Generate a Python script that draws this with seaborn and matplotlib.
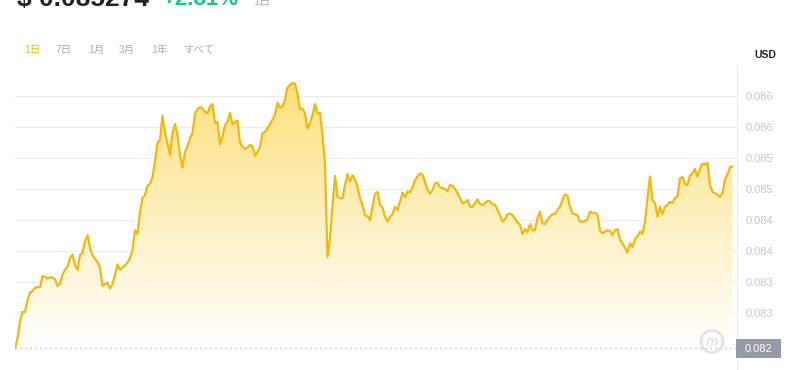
import numpy as np
import pandas as pd
import matplotlib
matplotlib.use("Agg")
import matplotlib.pyplot as plt
import seaborn as sns
from matplotlib.patches import Rectangle, Ellipse

# ---------------- data ----------------
prices = [
    0.08192, 0.08208, 0.08235, 0.08251, 0.08251, 0.08270, 0.08282, 0.08285, 0.08290, 0.08291,
    0.08291, 0.08309, 0.08308, 0.08305, 0.08307, 0.08306, 0.08304, 0.08293, 0.08296, 0.08311,
    0.08319, 0.08324, 0.08338, 0.08344, 0.08327, 0.08319, 0.08343, 0.08346, 0.08365, 0.08375,
    0.08355, 0.08343, 0.08337, 0.08332, 0.08323, 0.08293, 0.08296, 0.08298, 0.08289, 0.08296,
    0.08311, 0.08328, 0.08319, 0.08323, 0.08326, 0.08331, 0.08338, 0.08351, 0.08383, 0.08377,
    0.08413, 0.08435, 0.08440, 0.08455, 0.08458, 0.08469, 0.08494, 0.08524, 0.08529, 0.08568,
    0.08542, 0.08524, 0.08505, 0.08540, 0.08555, 0.08537, 0.08505, 0.08484, 0.08510, 0.08519,
    0.08532, 0.08540, 0.08572, 0.08579, 0.08582, 0.08580, 0.08575, 0.08572, 0.08583, 0.08587,
    0.08556, 0.08558, 0.08522, 0.08535, 0.08553, 0.08558, 0.08573, 0.08554, 0.08558, 0.08560,
    0.08525, 0.08518, 0.08514, 0.08517, 0.08521, 0.08519, 0.08503, 0.08510, 0.08517, 0.08540,
    0.08542, 0.08548, 0.08555, 0.08562, 0.08570, 0.08589, 0.08581, 0.08583, 0.08594, 0.08614,
    0.08618, 0.08621, 0.08620, 0.08604, 0.08579, 0.08579, 0.08572, 0.08547, 0.08556, 0.08569,
    0.08587, 0.08572, 0.08573, 0.08537, 0.08489, 0.08340, 0.08370, 0.08424, 0.08471, 0.08437,
    0.08435, 0.08435, 0.08456, 0.08474, 0.08462, 0.08472, 0.08465, 0.08453, 0.08435, 0.08424,
    0.08407, 0.08406, 0.08399, 0.08421, 0.08442, 0.08445, 0.08424, 0.08420, 0.08405, 0.08397,
    0.08405, 0.08409, 0.08421, 0.08416, 0.08429, 0.08444, 0.08436, 0.08446, 0.08444, 0.08452,
    0.08464, 0.08470, 0.08475, 0.08473, 0.08461, 0.08449, 0.08442, 0.08448, 0.08459, 0.08460,
    0.08452, 0.08451, 0.08450, 0.08446, 0.08456, 0.08455, 0.08450, 0.08443, 0.08435, 0.08427,
    0.08428, 0.08432, 0.08421, 0.08421, 0.08427, 0.08433, 0.08425, 0.08424, 0.08427, 0.08430,
    0.08430, 0.08425, 0.08424, 0.08416, 0.08407, 0.08397, 0.08401, 0.08409, 0.08410, 0.08408,
    0.08401, 0.08396, 0.08392, 0.08377, 0.08385, 0.08380, 0.08393, 0.08383, 0.08383, 0.08403,
    0.08413, 0.08394, 0.08393, 0.08400, 0.08405, 0.08409, 0.08409, 0.08416, 0.08421, 0.08432,
    0.08441, 0.08439, 0.08421, 0.08410, 0.08409, 0.08407, 0.08397, 0.08397, 0.08398, 0.08401,
    0.08413, 0.08411, 0.08411, 0.08408, 0.08383, 0.08378, 0.08381, 0.08383, 0.08382, 0.08375,
    0.08383, 0.08385, 0.08368, 0.08362, 0.08355, 0.08347, 0.08362, 0.08356, 0.08368, 0.08373,
    0.08381, 0.08377, 0.08397, 0.08435, 0.08470, 0.08431, 0.08427, 0.08405, 0.08421, 0.08409,
    0.08421, 0.08424, 0.08429, 0.08427, 0.08435, 0.08438, 0.08467, 0.08469, 0.08458, 0.08456,
    0.08471, 0.08475, 0.08482, 0.08470, 0.08482, 0.08491, 0.08489, 0.08492, 0.08456, 0.08445,
    0.08443, 0.08440, 0.08437, 0.08443, 0.08465, 0.08473, 0.08485, 0.08486,
]
tick_values = [0.0820, 0.0825, 0.0830, 0.0835, 0.0840, 0.0845, 0.0850, 0.0855, 0.0860]
tick_labels = ["0.082", "0.083", "0.083", "0.084", "0.084", "0.085", "0.085", "0.086", "0.086"]
tabs = ["1日", "7日", "1月", "3月", "1年", "すべて"]
header_price = "$ 0.085274"
header_change = "+2.81%"
header_period = "1日"
currency = "USD"

# ---------------- style ----------------
sns.set_theme(style="white")
plt.rcParams['font.family'] = ['Liberation Sans', 'Noto Sans CJK JP', 'DejaVu Sans']

W, H = 800, 370
fig = plt.figure(figsize=(W / 100, H / 100), dpi=100)
fig.patch.set_facecolor('white')


def fx(px):
    return px / W


def fy(py):
    return 1 - py / H


ax = fig.add_axes([fx(15), 0, fx(737) - fx(15), fy(66)])
ax.set_facecolor('white')

df = pd.DataFrame({"step": np.arange(len(prices)), "price": prices})
base = prices[0]

ax.set_xlim(0, 288.8)
ax.set_ylim(0.081572, 0.086485)

# grid
ax.set_yticks(tick_values)
ax.set_yticklabels(tick_labels)
ax.set_xticks([])
ax.yaxis.grid(True, color='#EAECEF', linewidth=0.8)
ax.set_axisbelow(True)

# gradient fill under the line
poly = ax.fill_between(df["step"], df["price"], base, facecolor='none', edgecolor='none')
top = np.array([253, 225, 125]) / 255
bot = np.array([255, 255, 255]) / 255
g = np.linspace(1, 0, 256)[:, None, None]
img = bot + (top - bot) * g
im = ax.imshow(img, extent=[0, len(prices) - 1, base, max(prices)], aspect='auto',
               origin='upper', zorder=1, interpolation='bilinear')
im.set_clip_path(poly.get_paths()[0], transform=ax.transData)

# line
sns.lineplot(data=df, x="step", y="price", color='#F0B90B', linewidth=1.6, ax=ax, zorder=3)
ax.set_xlabel("")
ax.set_ylabel("")

# dotted baseline
ax.axhline(base, color='#A3A7AF', linewidth=1.0, linestyle=(0, (0.8, 2.8)), zorder=2)

# axis styling
ax.yaxis.tick_right()
ax.tick_params(axis='y', length=0, pad=6, labelsize=8, labelcolor='#C3C6CD')
for s in ['left', 'top', 'bottom']:
    ax.spines[s].set_visible(False)
ax.spines['right'].set_color('#E6E8EA')
ax.spines['right'].set_linewidth(0.8)

# badge with base value
bx, by = ax.transData.transform((0, base))
by_px = H - by
fig.add_artist(Rectangle((fx(736), fy(by_px + 9.5)), fx(781) - fx(736), 19 / H,
                         transform=fig.transFigure, facecolor='#969AA6', edgecolor='none', zorder=5))
fig.text(fx(758.5), fy(by_px + 0.5), f"{base:.3f}", color='white', fontsize=8,
         ha='center', va='center', zorder=6)

# watermark
fig.add_artist(Ellipse((fx(712), fy(341.5)), 22 / W, 22 / H, transform=fig.transFigure,
                       facecolor='none', edgecolor='#E3E3E3', linewidth=2.0, zorder=4))
fig.text(fx(712), fy(342), "m", color='#E3E3E3', fontsize=10, fontweight='bold',
         ha='center', va='center', style='italic', zorder=4)

# currency
fig.text(fx(765), fy(54.5), currency, color='#1E2329', fontsize=7.5, fontweight='bold',
         ha='center', va='center')

# tabs
tab_x = [24, 55, 88, 119, 151, 183]
for i, (t, x) in enumerate(zip(tabs, tab_x)):
    fig.text(fx(x), fy(49.5), t, color='#F0B90B' if i == 0 else '#A9ADB5', fontsize=7.5,
             ha='left', va='center')

# header (cut off at top)
fig.text(fx(17), fy(6), header_price, color='#1E2329', fontsize=19, fontweight='bold',
         ha='left', va='baseline')
fig.text(fx(162), fy(5), header_change, color='#16C784', fontsize=16, fontweight='bold',
         ha='left', va='baseline')
fig.text(fx(253), fy(5), header_period, color='#A9ADB5', fontsize=8, ha='left', va='baseline')

fig.savefig("out.png", dpi=100, facecolor='white')
